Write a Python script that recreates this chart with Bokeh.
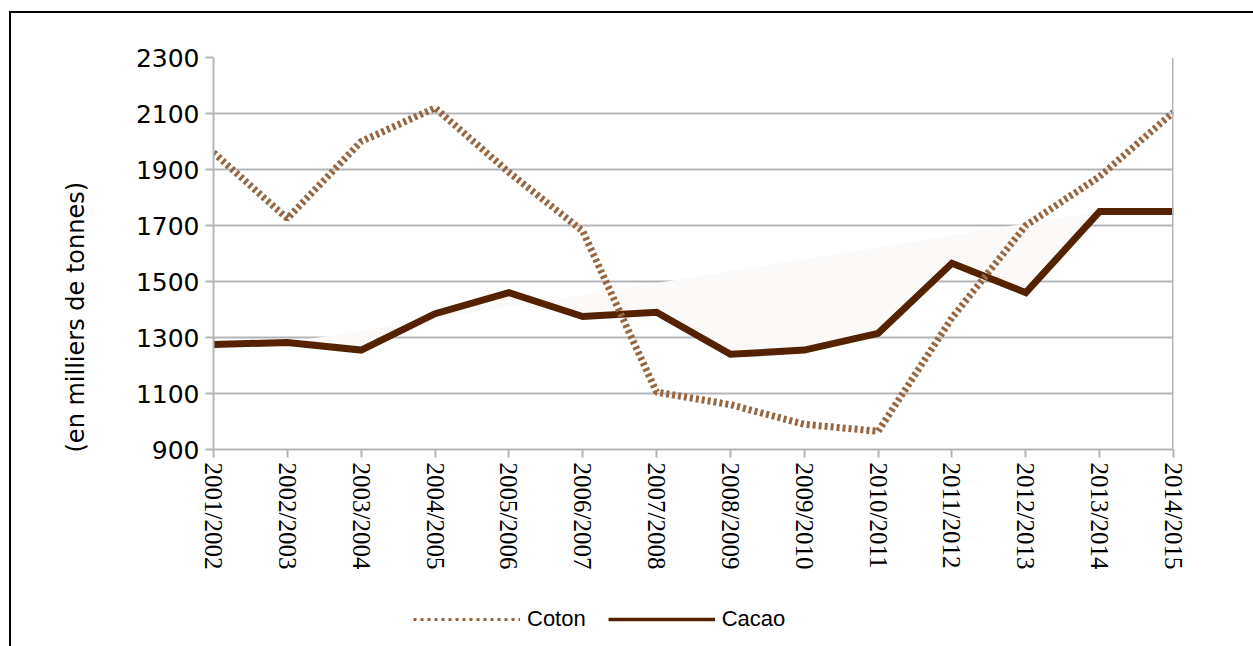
from bokeh.plotting import figure
from bokeh.layouts import column
from bokeh.models import Range1d, FixedTicker, Legend, LegendItem, Title, Span
from bokeh.embed import file_html
from bokeh.resources import INLINE

# Campaigns (crop seasons)
seasons = ["2001/2002", "2002/2003", "2003/2004", "2004/2005", "2005/2006",
           "2006/2007", "2007/2008", "2008/2009", "2009/2010", "2010/2011",
           "2011/2012", "2012/2013", "2013/2014", "2014/2015"]

# Production, thousands of tonnes
coton = [1960, 1725, 2000, 2120, 1890, 1680, 1105, 1060, 990, 965,
         1370, 1700, 1875, 2105]
cacao = [1275, 1282, 1255, 1385, 1460, 1375, 1390, 1240, 1255, 1315,
         1565, 1460, 1750, 1750]

y_ticks = [900, 1100, 1300, 1500, 1700, 1900, 2100, 2300]

x = list(range(len(seasons)))

COTON_COLOR = "#976640"
CACAO_COLOR = "#552200"
GRID_COLOR = "#b4b5b9"

p = figure(width=1253, height=590, output_backend="svg", toolbar_location=None,
           x_range=Range1d(0, len(seasons) - 1), y_range=Range1d(y_ticks[0], y_ticks[-1]),
           min_border_left=213, min_border_right=80, min_border_top=57,
           min_border_bottom=141)
p.outline_line_color = None
p.background_fill_color = "white"
p.border_fill_alpha = 0

# faint band between the cacao curve and its 2002-2013 chord
p.patch(x[1:13], cacao[1:13], fill_color="#fcfaf8", fill_alpha=1, line_color=None)

p.line(x, cacao, line_color=CACAO_COLOR, line_width=7, line_join="miter")
p.line(x, coton, line_color=COTON_COLOR, line_width=7, line_dash="3 3")

# axes
p.xaxis.ticker = FixedTicker(ticks=x)
p.xaxis.major_label_overrides = {i: s for i, s in zip(x, seasons)}
p.xaxis.major_label_orientation = -1.5708
p.xaxis.major_label_text_font = "Liberation Sans Narrow"
p.xaxis.major_label_text_font_size = "25px"
p.xaxis.major_label_text_color = "black"
p.xaxis.major_label_standoff = 5
p.xaxis.major_tick_out = 8
p.xaxis.major_tick_in = 0
p.xaxis.minor_tick_line_color = None
p.xaxis.axis_line_color = GRID_COLOR
p.xaxis.major_tick_line_color = GRID_COLOR
p.xaxis.axis_line_width = 2
p.xaxis.major_tick_line_width = 2

p.yaxis.ticker = FixedTicker(ticks=y_ticks)
p.yaxis.major_label_text_font = "DejaVu Sans"
p.yaxis.major_label_text_font_size = "25px"
p.yaxis.major_label_text_color = "black"
p.yaxis.major_label_standoff = 6
p.yaxis.major_tick_out = 8
p.yaxis.major_tick_in = 0
p.yaxis.minor_tick_line_color = None
p.yaxis.axis_line_color = GRID_COLOR
p.yaxis.major_tick_line_color = GRID_COLOR
p.yaxis.axis_line_width = 2
p.yaxis.major_tick_line_width = 2

p.xgrid.grid_line_color = None
p.ygrid.grid_line_color = GRID_COLOR
p.ygrid.grid_line_width = 2

# right edge of the plotting area
p.add_layout(Span(location=len(seasons) - 1, dimension="height",
                  line_color=GRID_COLOR, line_width=3))

# vertical axis title
p.add_layout(Title(text="(en milliers de tonnes)", align="left", offset=-3, standoff=86,
                   text_font="DejaVu Sans", text_font_size="24px",
                   text_font_style="normal", text_color="black"), "left")

# legend strip under the chart (its frame lines up with the chart's frame)
leg = figure(width=1253, height=56, output_backend="svg", toolbar_location=None,
             x_range=Range1d(0, 1), y_range=Range1d(0, 1),
             min_border_left=0, min_border_right=0, min_border_top=0, min_border_bottom=0,
             x_axis_location=None, y_axis_location=None)
leg.grid.grid_line_color = None
leg.outline_line_color = None
leg.background_fill_alpha = 0
leg.border_fill_alpha = 0

# swatch renderers: same series, lying outside this strip's ranges
lg_coton = leg.line(x, coton, line_color=COTON_COLOR, line_width=3, line_dash="3 4")
lg_cacao = leg.line(x, cacao, line_color=CACAO_COLOR, line_width=3.5)

legend = Legend(items=[LegendItem(label="Coton", renderers=[lg_coton]),
                       LegendItem(label="Cacao", renderers=[lg_cacao])],
                orientation="horizontal", location=(200, 14),
                glyph_width=107, glyph_height=20, label_standoff=7, spacing=22,
                label_text_font="Liberation Sans", label_text_font_size="22px",
                label_text_color="black", border_line_color=None,
                background_fill_alpha=0, padding=0, margin=0)
leg.add_layout(legend)

page = column(p, leg, spacing=0)
# page frame: thin black rule along the top and left edges
page.styles = {"background-color": "white",
               "box-shadow": "inset 9px 11px 0 0 white, inset 11px 13px 0 0 black"}

open("out.html", "w").write(file_html(page, INLINE))
